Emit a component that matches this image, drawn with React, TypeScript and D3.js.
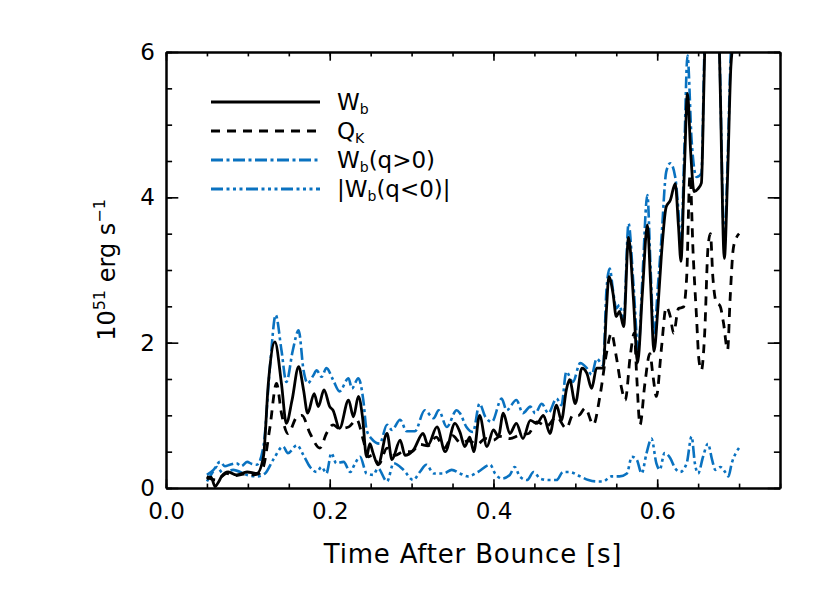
import { useEffect, useRef } from 'react';
import * as d3 from 'd3';

// W_b (solid black)
const wbTime = [
  0.05, 0.055, 0.06, 0.064, 0.068, 0.076, 0.086, 0.099, 0.111, 0.119, 0.125, 0.133, 0.141, 0.147,
  0.154, 0.162, 0.168, 0.173, 0.181, 0.186, 0.193, 0.2, 0.204, 0.212, 0.223, 0.229, 0.235, 0.24,
  0.245, 0.249, 0.253, 0.259, 0.27, 0.276, 0.286, 0.292, 0.302, 0.314, 0.32, 0.331, 0.341, 0.353,
  0.359, 0.365, 0.371, 0.376, 0.383, 0.392, 0.4, 0.406, 0.412, 0.42, 0.428, 0.436, 0.445, 0.453,
  0.461, 0.469, 0.477, 0.483, 0.489, 0.493, 0.5, 0.508, 0.514, 0.52, 0.526, 0.534, 0.538, 0.541,
  0.546, 0.55, 0.554, 0.559, 0.565, 0.571, 0.576, 0.582, 0.588, 0.592, 0.596, 0.601, 0.605, 0.611,
  0.616, 0.622, 0.626, 0.629, 0.633, 0.637, 0.641, 0.645, 0.65, 0.654, 0.657, 0.66, 0.667, 0.674,
  0.677, 0.682, 0.686, 0.69, 0.695, 0.7,
];
const wbValues = [
  0.12, 0.15, 0.02, 0.08, 0.16, 0.22, 0.18, 0.22, 0.2, 0.43, 1.44, 2.01, 1.44, 0.89,
  1.21, 1.67, 1.35, 1.03, 1.3, 1.12, 1.35, 1.12, 1.07, 0.82, 1.21, 0.98, 1.26, 0.98,
  0.43, 0.61, 0.48, 0.32, 0.75, 0.39, 0.66, 0.45, 0.52, 0.75, 0.59, 0.84, 0.5, 0.89,
  0.77, 0.57, 0.7, 0.5, 1.0, 0.57, 0.8, 0.71, 1.03, 0.75, 0.89, 0.68, 0.93, 0.89,
  1.0, 0.75, 1.14, 0.93, 1.35, 1.49, 1.16, 1.65, 1.58, 1.37, 1.65, 1.65, 2.45, 2.91,
  2.68, 2.36, 2.43, 2.22, 3.45, 2.6, 1.72, 2.7, 3.62, 2.8, 1.88, 2.5, 3.18, 3.87,
  3.96, 4.19, 3.6, 3.12, 4.3, 5.43, 4.6, 4.08, 4.12, 4.2, 5.5, 7.0, 9.0, 7.0,
  5.5, 3.16, 4.3, 5.8, 6.3, 6.6,
];

// Q_K (dashed black)
const qkTime = [
  0.05, 0.056, 0.062, 0.068, 0.074, 0.085, 0.095, 0.105, 0.114, 0.119, 0.127, 0.135, 0.141, 0.149,
  0.16, 0.166, 0.176, 0.188, 0.196, 0.204, 0.212, 0.223, 0.233, 0.241, 0.247, 0.252, 0.26, 0.27,
  0.28, 0.29, 0.3, 0.31, 0.32, 0.33, 0.34, 0.35, 0.36, 0.37, 0.38, 0.39, 0.4, 0.408,
  0.42, 0.432, 0.443, 0.453, 0.465, 0.477, 0.489, 0.497, 0.504, 0.512, 0.522, 0.53, 0.538, 0.544,
  0.55, 0.556, 0.561, 0.567, 0.572, 0.575, 0.579, 0.585, 0.591, 0.595, 0.599, 0.605, 0.611, 0.616,
  0.62, 0.626, 0.632, 0.636, 0.64, 0.644, 0.648, 0.651, 0.654, 0.658, 0.662, 0.665, 0.668, 0.672,
  0.677, 0.681, 0.686, 0.689, 0.693, 0.697, 0.7,
];
const qkValues = [
  0.16, 0.12, 0.11, 0.16, 0.2, 0.17, 0.19, 0.18, 0.2, 0.29, 0.84, 1.44, 1.03, 0.75,
  0.98, 1.0, 0.75, 0.55, 0.75, 0.87, 0.82, 0.84, 0.94, 0.66, 0.43, 0.45, 0.33, 0.55,
  0.45, 0.5, 0.5, 0.6, 0.58, 0.7, 0.55, 0.72, 0.62, 0.65, 0.6, 0.68, 0.66, 0.71,
  0.68, 0.73, 0.75, 0.91, 0.85, 0.98, 0.82, 1.0, 1.0, 1.1, 0.87, 1.26, 1.85, 2.13,
  1.81, 1.4, 1.21, 1.81, 2.13, 1.53, 0.87, 1.44, 1.85, 1.53, 1.26, 1.9, 2.49, 2.36,
  2.13, 2.47, 2.49, 2.9, 4.3, 3.2, 2.36, 1.76, 1.62, 2.13, 3.3, 3.5, 2.9, 2.56,
  2.5, 2.27, 1.9, 2.59, 3.3, 3.45, 3.5,
];

// W_b(q>0) (blue dash-dot)
const wpTime = [
  0.05, 0.058, 0.066, 0.072, 0.078, 0.086, 0.092, 0.099, 0.105, 0.111, 0.119, 0.127, 0.134, 0.141,
  0.147, 0.155, 0.162, 0.168, 0.173, 0.18, 0.184, 0.19, 0.196, 0.204, 0.212, 0.223, 0.227, 0.235,
  0.241, 0.245, 0.251, 0.261, 0.27, 0.276, 0.286, 0.294, 0.304, 0.316, 0.327, 0.333, 0.343, 0.355,
  0.359, 0.367, 0.375, 0.383, 0.39, 0.398, 0.41, 0.416, 0.428, 0.436, 0.445, 0.451, 0.459, 0.467,
  0.477, 0.483, 0.489, 0.497, 0.506, 0.514, 0.52, 0.526, 0.534, 0.538, 0.542, 0.546, 0.55, 0.554,
  0.559, 0.565, 0.571, 0.577, 0.582, 0.588, 0.592, 0.596, 0.601, 0.605, 0.611, 0.616, 0.622, 0.626,
  0.629, 0.633, 0.637, 0.642, 0.648, 0.654, 0.657, 0.66, 0.667, 0.674, 0.677, 0.682, 0.686, 0.69,
  0.695, 0.7,
];
const wpValues = [
  0.18, 0.25, 0.36, 0.3, 0.32, 0.34, 0.3, 0.36, 0.33, 0.32, 0.57, 1.67, 2.38, 1.9,
  1.46, 1.9, 2.17, 1.62, 1.44, 1.55, 1.62, 1.53, 1.65, 1.49, 1.33, 1.51, 1.37, 1.51,
  1.21, 0.8, 0.68, 0.61, 0.87, 0.8, 0.94, 0.78, 0.78, 1.07, 0.96, 1.07, 0.84, 1.07,
  1.03, 0.84, 0.77, 1.16, 0.98, 0.91, 1.23, 1.07, 1.21, 1.03, 1.12, 1.03, 1.16, 1.03,
  1.23, 1.14, 1.6, 1.46, 1.72, 1.65, 1.56, 1.78, 1.69, 2.72, 3.02, 2.72, 2.47, 2.52,
  2.31, 3.64, 2.8, 1.9, 2.9, 4.03, 3.0, 2.1, 2.8, 3.4, 4.35, 4.47, 4.28, 3.8,
  3.3, 4.6, 5.95, 4.79, 4.28, 4.33, 5.7, 7.2, 9.2, 7.2, 5.6, 3.35, 4.5, 6.0,
  6.5, 6.8,
];

// |W_b(q<0)| (blue dash-dot-dot-dot)
const wnTime = [
  0.05, 0.056, 0.062, 0.07, 0.082, 0.099, 0.111, 0.121, 0.131, 0.143, 0.149, 0.16, 0.168, 0.176,
  0.184, 0.19, 0.196, 0.202, 0.208, 0.217, 0.225, 0.231, 0.237, 0.245, 0.253, 0.259, 0.27, 0.278,
  0.29, 0.302, 0.31, 0.318, 0.327, 0.339, 0.349, 0.359, 0.369, 0.381, 0.396, 0.402, 0.41, 0.42,
  0.426, 0.432, 0.441, 0.449, 0.457, 0.467, 0.477, 0.485, 0.493, 0.506, 0.516, 0.526, 0.534, 0.544,
  0.554, 0.563, 0.569, 0.575, 0.581, 0.587, 0.593, 0.599, 0.603, 0.609, 0.616, 0.622, 0.628, 0.636,
  0.642, 0.646, 0.65, 0.656, 0.662, 0.667, 0.671, 0.677, 0.683, 0.687, 0.691, 0.696, 0.7,
];
const wnValues = [
  0.09, 0.2, 0.29, 0.2, 0.25, 0.18, 0.16, 0.2, 0.39, 0.57, 0.48, 0.59, 0.45, 0.29,
  0.22, 0.29, 0.2, 0.48, 0.34, 0.36, 0.22, 0.34, 0.43, 0.2, 0.18, 0.27, 0.09, 0.34,
  0.25, 0.11, 0.22, 0.32, 0.2, 0.2, 0.25, 0.2, 0.16, 0.22, 0.32, 0.2, 0.13, 0.18,
  0.29, 0.16, 0.11, 0.22, 0.13, 0.11, 0.11, 0.22, 0.22, 0.16, 0.11, 0.09, 0.09, 0.16,
  0.16, 0.2, 0.43, 0.39, 0.2, 0.48, 0.68, 0.34, 0.25, 0.48, 0.41, 0.27, 0.22, 0.34,
  0.71, 0.34, 0.2, 0.43, 0.61, 0.39, 0.25, 0.29, 0.22, 0.16, 0.34, 0.48, 0.55,
];

const xMajorTicks = [0, 0.2, 0.4, 0.6];
const yMajorTicks = [0, 2, 4, 6];

const BLUE = '#0a72c0';
const FONT = "'DejaVu Sans', sans-serif";

export default function App() {
  const svgRef = useRef<SVGSVGElement>(null);

  useEffect(() => {
    if (!svgRef.current) return;
    const svg = d3.select(svgRef.current);
    svg.selectAll('*').remove();

    const width = 830;
    const height = 593;
    const margin = { top: 52, right: 50, bottom: 105, left: 166 };
    const w = width - margin.left - margin.right;
    const h = height - margin.top - margin.bottom;

    const g = svg.append('g').attr('transform', `translate(${margin.left},${margin.top})`);

    const x = d3.scaleLinear().domain([0, 0.75]).range([0, w]);
    const y = d3.scaleLinear().domain([0, 6]).range([h, 0]);

    svg.append('defs').append('clipPath').attr('id', 'plot-clip')
      .append('rect').attr('width', w).attr('height', h);

    const line = d3.line<[number, number]>()
      .x((d) => x(d[0]))
      .y((d) => y(d[1]))
      .curve(d3.curveMonotoneX);

    const series = [
      { t: wnTime, v: wnValues, color: BLUE, dash: '12,3.5,3,3.5,3,3.5,3,3.5', width: 2.6 },
      { t: wpTime, v: wpValues, color: BLUE, dash: '12,3.5,3,3.5', width: 2.6 },
      { t: qkTime, v: qkValues, color: '#000', dash: '9,7', width: 2.8 },
      { t: wbTime, v: wbValues, color: '#000', dash: null, width: 2.8 },
    ];

    const lines = g.append('g').attr('clip-path', 'url(#plot-clip)');
    series.forEach((s) => {
      const pts = s.t.map((t, i) => [t, s.v[i]] as [number, number]);
      lines.append('path')
        .attr('d', line(pts))
        .attr('fill', 'none')
        .attr('stroke', s.color)
        .attr('stroke-width', s.width)
        .attr('stroke-dasharray', s.dash)
        .attr('stroke-linejoin', 'round');
    });

    // Axes (ticks point inward, minor ticks every 0.05 / 0.5)
    const xMinor = d3.range(0, 0.7501, 0.05);
    const yMinor = d3.range(0, 6.001, 0.5);
    const styleAxis = (sel: any) => {
      sel.select('.domain').attr('stroke', '#000').attr('stroke-width', 2);
      sel.selectAll('.tick line').attr('stroke', '#000').attr('stroke-width', 1.6);
      sel.attr('font-family', FONT).attr('font-size', 23);
      sel.selectAll('.tick text').attr('fill', '#000');
    };
    const noLabel = () => '';

    const bottom = g.append('g').attr('transform', `translate(0,${h})`);
    bottom.append('g').call(d3.axisBottom(x).tickValues(xMinor).tickSizeInner(-4.4).tickSizeOuter(0).tickFormat(noLabel)).call(styleAxis);
    bottom.append('g').call(d3.axisBottom(x).tickValues(xMajorTicks).tickSizeInner(-8.7).tickSizeOuter(0).tickPadding(15).tickFormat(d3.format('.1f'))).call(styleAxis);

    const top = g.append('g');
    top.append('g').call(d3.axisTop(x).tickValues(xMinor).tickSizeInner(-4.4).tickSizeOuter(0).tickFormat(noLabel)).call(styleAxis);
    top.append('g').call(d3.axisTop(x).tickValues(xMajorTicks).tickSizeInner(-8.7).tickSizeOuter(0).tickFormat(noLabel)).call(styleAxis);

    const left = g.append('g');
    left.append('g').call(d3.axisLeft(y).tickValues(yMinor).tickSizeInner(-6.1).tickSizeOuter(0).tickFormat(noLabel)).call(styleAxis);
    left.append('g').call(d3.axisLeft(y).tickValues(yMajorTicks).tickSizeInner(-12.3).tickSizeOuter(0).tickPadding(11).tickFormat(d3.format('d'))).call(styleAxis);

    const right = g.append('g').attr('transform', `translate(${w},0)`);
    right.append('g').call(d3.axisRight(y).tickValues(yMinor).tickSizeInner(-6.1).tickSizeOuter(0).tickFormat(noLabel)).call(styleAxis);
    right.append('g').call(d3.axisRight(y).tickValues(yMajorTicks).tickSizeInner(-12.3).tickSizeOuter(0).tickFormat(noLabel)).call(styleAxis);

    // Axis titles
    svg.append('text')
      .attr('x', margin.left + w / 2)
      .attr('y', 563)
      .attr('text-anchor', 'middle')
      .attr('font-family', FONT)
      .attr('font-size', 26)
      .attr('letter-spacing', 0.8)
      .text('Time After Bounce [s]');

    const yl = svg.append('text')
      .attr('transform', `translate(115,${margin.top + h / 2}) rotate(-90)`)
      .attr('text-anchor', 'middle')
      .attr('font-family', FONT)
      .attr('font-size', 24);
    yl.append('tspan').text('10');
    yl.append('tspan').attr('font-size', 16).attr('dy', -10).text('51');
    yl.append('tspan').attr('dy', 10).text(' erg s');
    yl.append('tspan').attr('font-size', 16).attr('dy', -10).text('−1');

    // Legend
    const legend = [
      { main: 'W', sub: 'b', rest: '', pre: '', color: '#000', dash: null },
      { main: 'Q', sub: 'K', rest: '', pre: '', color: '#000', dash: '9,7' },
      { main: 'W', sub: 'b', rest: '(q>0)', pre: '', color: BLUE, dash: '12,3.5,3,3.5' },
      { main: 'W', sub: 'b', rest: '(q<0)|', pre: '|', color: BLUE, dash: '12,3.5,3,3.5,3,3.5,3,3.5' },
    ];
    const lg = svg.append('g');
    legend.forEach((d, i) => {
      const ly = 102 + i * 29;
      lg.append('line')
        .attr('x1', 211).attr('x2', 320)
        .attr('y1', ly).attr('y2', ly)
        .attr('stroke', d.color)
        .attr('stroke-width', 2.8)
        .attr('stroke-dasharray', d.dash);
      const t = lg.append('text')
        .attr('x', 337).attr('y', ly + 8)
        .attr('font-family', FONT)
        .attr('font-size', 23)
        .attr('fill', '#000');
      t.append('tspan').text(d.pre + d.main);
      t.append('tspan').attr('font-size', 14).attr('dy', 4).text(d.sub);
      if (d.rest) t.append('tspan').attr('dy', -4).text(d.rest);
    });
  }, []);

  return (
    <svg
      ref={svgRef}
      width={830}
      height={593}
      style={{ position: 'absolute', left: 0, top: 0, background: '#fff' }}
    />
  );
}
